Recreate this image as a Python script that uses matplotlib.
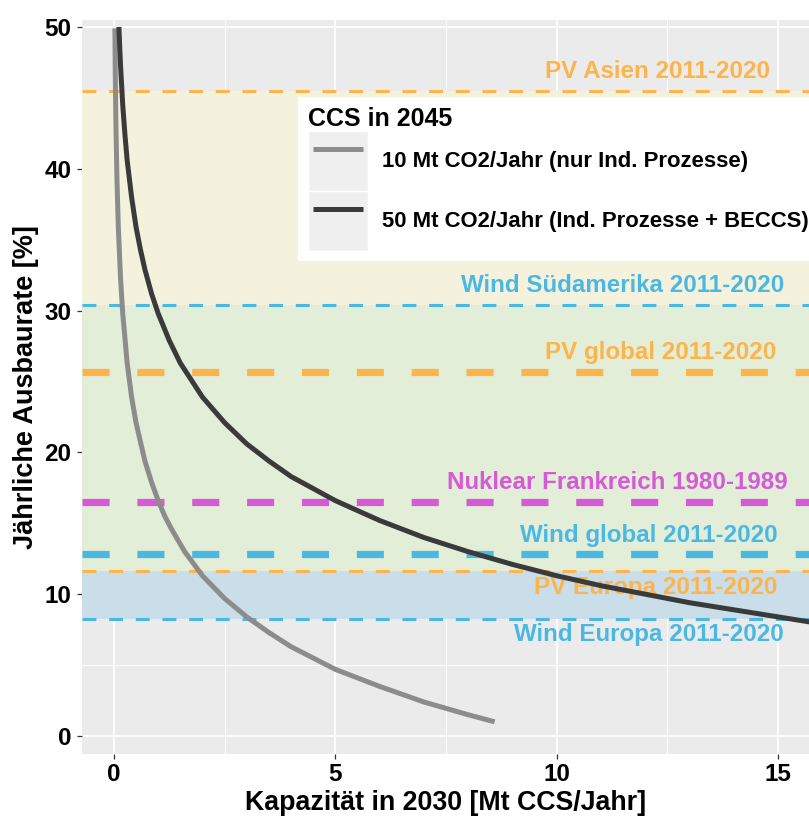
import matplotlib
matplotlib.use('Agg')
import matplotlib.pyplot as plt
from matplotlib.patches import Patch
from matplotlib.lines import Line2D
from matplotlib.legend_handler import HandlerTuple, HandlerLine2D
from matplotlib.ticker import MultipleLocator

plt.rcParams['font.family'] = ['Liberation Sans', 'DejaVu Sans']
plt.rcParams['font.weight'] = 'bold'
plt.rcParams['axes.labelweight'] = 'bold'
plt.rcParams['lines.scale_dashes'] = False

# ---------------- data ----------------
cap_10mt = [0.023, 0.03, 0.04, 0.05, 0.07, 0.1, 0.15, 0.2, 0.3, 0.4, 0.5, 0.7, 0.85,
            1.0, 1.15, 1.3, 1.6, 2.0, 2.5, 3.0, 3.5, 4.0, 5.0, 6.0, 7.0, 8.0, 8.6]
rate_10mt = [49.9, 47.3, 44.5, 42.4, 39.2, 35.9, 32.3, 29.8, 26.3, 23.9, 22.1, 19.4, 17.9,
             16.6, 15.5, 14.6, 13.0, 11.3, 9.7, 8.4, 7.3, 6.3, 4.7, 3.5, 2.4, 1.5, 1.0]

cap_50mt = [0.114, 0.13, 0.15, 0.2, 0.25, 0.3, 0.4, 0.5, 0.6, 0.7, 0.85, 1.0, 1.25, 1.5,
            2.0, 2.5, 3.0, 3.5, 4.0, 5.0, 6.0, 7.0, 8.0, 9.0, 10, 11, 12, 13, 14, 15, 16]
rate_50mt = [50.0, 48.7, 47.3, 44.5, 42.4, 40.6, 38.0, 35.9, 34.3, 32.9, 31.2, 29.8, 27.9, 26.3,
             23.9, 22.1, 20.6, 19.4, 18.3, 16.6, 15.2, 14.0, 13.0, 12.1, 11.3, 10.6, 10.0, 9.4, 8.9, 8.4, 7.9]

series_labels = ['10 Mt CO2/Jahr (nur Ind. Prozesse)', '50 Mt CO2/Jahr (Ind. Prozesse + BECCS)']
legend_title = 'CCS in 2045'

ref_labels = ['PV Asien 2011-2020', 'Wind Südamerika 2011-2020', 'PV global 2011-2020',
              'Nuklear Frankreich 1980-1989', 'Wind global 2011-2020',
              'PV Europa 2011-2020', 'Wind Europa 2011-2020']
ref_rates = [45.5, 30.4, 25.7, 16.5, 12.8, 11.6, 8.25]
ref_kind = ['pv', 'wind', 'pv', 'nuklear', 'wind', 'pv', 'wind']
ref_thick = [False, False, True, True, True, False, False]

band_low = [30.4, 11.6, 8.25]
band_high = [45.5, 30.4, 11.6]

x_ticks = [0, 5, 10, 15]
y_ticks = [0, 10, 20, 30, 40, 50]

# ---------------- styles ----------------
kind_colors = {'pv': '#FDB44B', 'wind': '#4BB8E3', 'nuklear': '#D65AD6'}
band_colors = ['#F4F2DC', '#E2EED8', '#C9DEE9']
label_right = [14.81, 15.15, 14.97, 15.22, 14.99, 14.99, 15.13]
label_below = [False, False, False, False, False, True, True]

W, H = 809, 817
fig = plt.figure(figsize=(W / 100, H / 100), dpi=100)
fig.patch.set_facecolor('white')
ax = fig.add_axes([82 / W, (H - 754) / H, (W - 82) / W, (754 - 20) / H])
ax.set_facecolor('#EBEBEB')
for s in ax.spines.values():
    s.set_visible(False)

ax.set_xlim(-0.72, 15.70)
ax.set_ylim(-1.27, 50.49)
ax.set_xticks(x_ticks)
ax.set_yticks(y_ticks)
ax.xaxis.set_minor_locator(MultipleLocator(2.5))
ax.yaxis.set_minor_locator(MultipleLocator(5))
ax.set_axisbelow(True)
ax.grid(which='major', color='white', linewidth=1.3)
ax.grid(which='minor', color='white', linewidth=0.7)
ax.tick_params(which='minor', length=0)
ax.tick_params(which='major', direction='out', length=3.6, width=0.9, color='#333333',
               labelsize=17.5, labelcolor='black')
ax.tick_params(axis='x', pad=3)
ax.tick_params(axis='y', pad=4)

# bands
for lo, hi, c in zip(band_low, band_high, band_colors):
    ax.axhspan(lo, hi, color=c, zorder=1, linewidth=0)

# reference lines + labels
for lab, val, kind, thick, xr, below in zip(ref_labels, ref_rates, ref_kind, ref_thick,
                                            label_right, label_below):
    col = kind_colors[kind]
    if thick:
        ax.axhline(val, color=col, linewidth=5.2, dashes=(19.5, 20), zorder=2)
    else:
        ax.axhline(val, color=col, linewidth=2.2, dashes=(10, 9.2), zorder=2)
    if below:
        ax.text(xr, val - 0.3, lab, color=col, fontsize=17.4, ha='right', va='top', zorder=3)
    else:
        ax.text(xr, val + 0.9, lab, color=col, fontsize=17.4, ha='right', va='baseline', zorder=3)

# curves
l1, = ax.plot(cap_10mt, rate_10mt, color='#8C8C8C', linewidth=3.6, zorder=4,
              solid_capstyle='butt')
l2, = ax.plot(cap_50mt, rate_50mt, color='#3A3A3A', linewidth=3.6, zorder=4,
              solid_capstyle='butt')

ax.set_xlabel('Kapazität in 2030 [Mt CCS/Jahr]', fontsize=19.3, labelpad=3)
ax.set_ylabel('Jährliche Ausbaurate [%]', fontsize=19.5, labelpad=4)

# legend
fs_leg = 15.9
bg1 = Patch(facecolor='#EFEFEF', edgecolor='white', linewidth=1)
bg2 = Patch(facecolor='#EFEFEF', edgecolor='white', linewidth=1)
leg = ax.legend(handles=[(bg1, l1), (bg2, l2)], labels=series_labels, title=legend_title,
                loc='upper left', bbox_to_anchor=(298 / W, 1 - 97 / H),
                bbox_transform=fig.transFigure, frameon=True, facecolor='white',
                edgecolor='none', framealpha=1, fancybox=False,
                prop={'size': fs_leg, 'weight': 'bold'},
                title_fontproperties={'size': 18, 'weight': 'bold'},
                handlelength=2.72, handleheight=3.81, handletextpad=0.63, labelspacing=0,
                borderpad=0.45, borderaxespad=0, alignment='left',
                handler_map={tuple: HandlerTuple(ndivide=1, pad=0),
                             Line2D: HandlerLine2D(marker_pad=0.23, numpoints=2)})
leg.set_zorder(6)

fig.savefig('out.png', dpi=100)
